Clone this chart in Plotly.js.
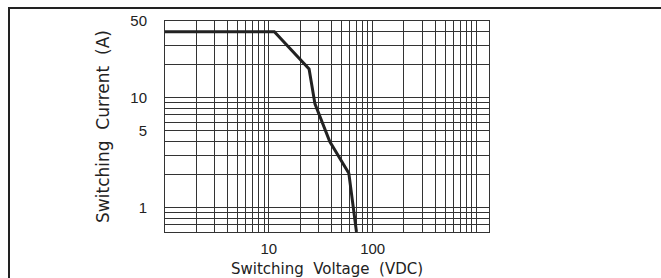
<!DOCTYPE html>
<html>
<head>
<meta charset="utf-8">
<script src="https://cdn.plot.ly/plotly-3.0.1.min.js"></script>
<style>
html,body{margin:0;padding:0;background:#fff;overflow:hidden;}
#chart{position:absolute;left:0;top:0;width:661px;height:278px;}
#frame{position:absolute;left:8px;top:7px;right:-5px;bottom:-5px;border-top:2px solid #222;border-left:2px solid #222;pointer-events:none;}
</style>
</head>
<body>
<div id="chart"></div>
<div id="frame"></div>
<script>
// Curve: switching voltage (VDC) vs switching current (A)
const voltage = [1, 11.3, 24.4, 27.8, 38.6, 58.9, 69.8];
const current = [40, 40, 18.3, 8.8, 4.0, 2.06, 0.6];

// Grid values (log grids) and labelled ticks
const xGridVals = [1,2,3,4,5,6,7,8,9,10,20,30,40,50,60,70,80,90,100,200,300,400,500,600,700,800,900,1000];
const xLabelVals = [10, 100];
const yGridVals = [0.6,0.7,0.8,0.9,1,2,3,4,5,6,7,8,9,10,20,30,40,50];
const yLabelVals = [1, 5, 10, 50];

const xText = xGridVals.map(v => xLabelVals.includes(v) ? String(v) : '');
const yText = yGridVals.map(v => yLabelVals.includes(v) ? String(v) : '');

const ink = '#222';
const gridC = '#333';

const trace = {
  x: voltage, y: current, type: 'scatter', mode: 'lines',
  line: {color: ink, width: 3},
  hoverinfo: 'skip', cliponaxis: true
};

const layout = {
  width: 661, height: 278,
  margin: {l: 165, r: 172, t: 21, b: 46, pad: 0},
  paper_bgcolor: '#fff', plot_bgcolor: '#fff',
  showlegend: false,
  font: {family: 'DejaVu Sans', color: ink},
  xaxis: {
    type: 'log', range: [0, 3.12], fixedrange: true,
    tickmode: 'array', tickvals: xGridVals, ticktext: xText,
    ticks: '', ticklabelstandoff: 3,
    tickfont: {family: 'Liberation Sans', size: 15, color: ink},
    showgrid: true, gridcolor: gridC, gridwidth: 1,
    zeroline: false, showline: true, mirror: true, linecolor: gridC, linewidth: 1,
    title: {text: 'Switching\u00A0\u00A0Voltage\u00A0\u00A0(VDC)', standoff: 10,
            font: {family: 'DejaVu Sans', size: 15, color: ink}},
    automargin: false
  },
  yaxis: {
    type: 'log', range: [Math.log10(0.6), Math.log10(50)], fixedrange: true,
    tickmode: 'array', tickvals: yGridVals, ticktext: yText,
    ticks: '', ticklabelstandoff: 14,
    tickfont: {family: 'Liberation Sans', size: 15, color: ink},
    showgrid: true, gridcolor: gridC, gridwidth: 1,
    zeroline: false, showline: true, mirror: true, linecolor: gridC, linewidth: 1,
    title: {text: 'Switching\u00A0\u00A0Current\u00A0\u00A0(A)', standoff: 16,
            font: {family: 'DejaVu Sans', size: 17, color: ink}},
    automargin: false
  }
};

Plotly.newPlot('chart', [trace], layout, {staticPlot: true, displayModeBar: false});
</script>
</body>
</html>
